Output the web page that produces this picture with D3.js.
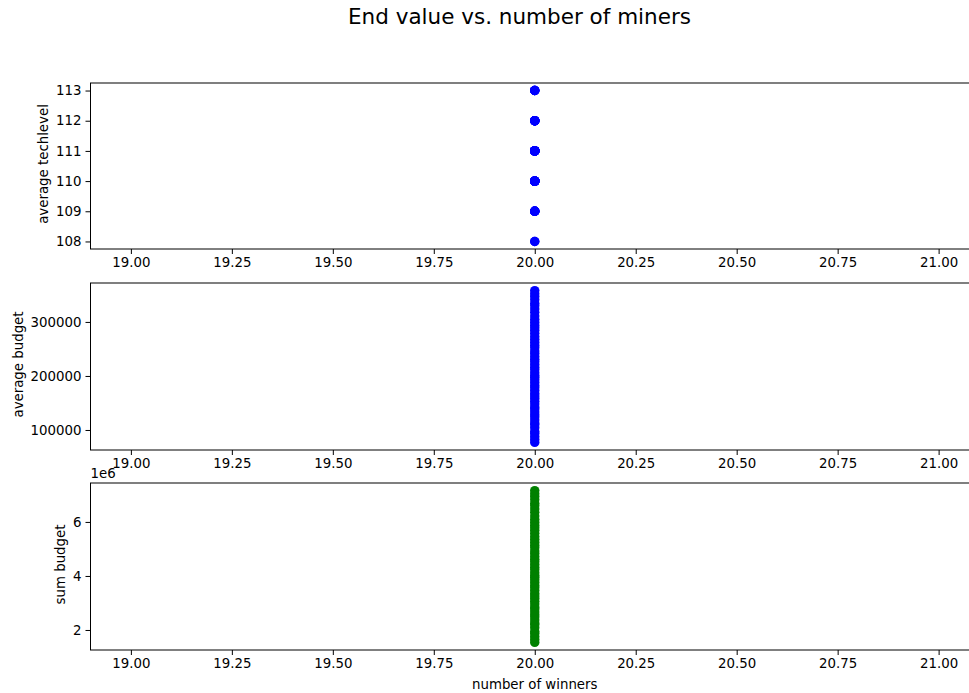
<!DOCTYPE html>
<html>
<head>
<meta charset="utf-8">
<script src="https://cdn.jsdelivr.net/npm/d3@7"></script>
<style>
body { margin: 0; background: #fff; }
svg text { font-family: "DejaVu Sans", sans-serif; fill: #000; }
</style>
</head>
<body>
<svg id="chart" width="969" height="693"></svg>
<script>
// one entry per run
const miners = [20, 20, 20, 20, 20, 20, 20, 20, 20, 20, 20, 20, 20, 20, 20, 20, 20, 20, 20, 20,
    20, 20, 20, 20, 20, 20, 20, 20, 20, 20, 20, 20, 20, 20, 20, 20, 20, 20, 20, 20,
    20, 20, 20, 20, 20, 20, 20, 20, 20, 20, 20, 20, 20, 20, 20];

const avgTechlevel = [110, 111, 109, 112, 110, 111, 113, 108, 110, 112, 111, 109, 110, 111, 112, 110, 109, 111, 113, 110,
    112, 111, 110, 109, 111, 112, 110, 111, 113, 108, 110, 111, 112, 109, 110, 111, 112, 110, 111, 109,
    113, 110, 111, 112, 110, 109, 111, 112, 110, 111, 113, 110, 112, 111, 110];

const avgBudget = [77000, 82500, 88000, 93500, 97000, 104000, 109500, 113000, 118500, 124000, 128000, 133500, 139000, 142500,
    148000, 153000, 158500, 163000, 167500, 173000, 178000, 182500, 188000, 193000, 197500, 201000, 206000, 211500,
    216000, 221000, 226500, 231000, 236000, 241500, 246000, 252000, 257000, 262500, 268000, 273000, 279000, 284500,
    289000, 294000, 299500, 305000, 311000, 318000, 324000, 330000, 334500, 341000, 347000, 352000, 358000];

const sumBudget = [1540000, 1650000, 1760000, 1870000, 1940000, 2080000, 2190000, 2260000, 2370000, 2480000, 2560000,
    2670000, 2780000, 2850000, 2960000, 3060000, 3170000, 3260000, 3350000, 3460000, 3560000, 3650000, 3760000,
    3860000, 3950000, 4020000, 4120000, 4230000, 4320000, 4420000, 4530000, 4620000, 4720000, 4830000, 4920000,
    5040000, 5140000, 5250000, 5360000, 5460000, 5580000, 5690000, 5780000, 5880000, 5990000, 6100000, 6220000,
    6360000, 6480000, 6600000, 6690000, 6820000, 6940000, 7040000, 7160000];

const xTicks = [19, 19.25, 19.5, 19.75, 20, 20.25, 20.5, 20.75, 21];
const techTicks = [108, 109, 110, 111, 112, 113];
const avgBudgetTicks = [100000, 200000, 300000];
const sumBudgetTicks = [2000000, 4000000, 6000000];

const svg = d3.select('#chart');
const left = 90.5, right = 979;
const fontSize = '13.33px';

// matplotlib-ish limits: 5% margin, singular data widened by 1
function limits(values) {
    let lo = d3.min(values), hi = d3.max(values);
    if (lo === hi) { lo -= 1; hi += 1; }
    const pad = (hi - lo) * 0.05;
    return [lo - pad, hi + pad];
}

const xscale = d3.scaleLinear()
    .domain(limits(miners))
    .range([left, right]);

const panels = [
    { values: avgTechlevel, color: '#0000ff', ylabel: 'average techlevel', labelX: 48, top: 83, bottom: 249,
      ticks: techTicks, fmt: d => d },
    { values: avgBudget, color: '#0000ff', ylabel: 'average budget', labelX: 23, top: 283, bottom: 450,
      ticks: avgBudgetTicks, fmt: d => d },
    { values: sumBudget, color: '#008000', ylabel: 'sum budget', labelX: 65, top: 483, bottom: 650,
      ticks: sumBudgetTicks, fmt: d => d / 1e6, offset: '1e6' }
];

panels.forEach(p => {
    const yscale = d3.scaleLinear()
        .domain(limits(p.values))
        .range([p.bottom, p.top]);

    const g = svg.append('g');

    g.selectAll('circle')
        .data(p.values)
        .enter()
        .append('circle')
        .attr('cx', (d, i) => xscale(miners[i]))
        .attr('cy', d => yscale(d))
        .attr('r', 4.7)
        .attr('fill', p.color);

    const xaxis = d3.axisBottom(xscale)
        .tickValues(xTicks)
        .tickFormat(d3.format('.2f'))
        .tickSize(5)
        .tickPadding(4)
        .tickSizeOuter(0);

    const yaxis = d3.axisLeft(yscale)
        .tickValues(p.ticks)
        .tickFormat(p.fmt)
        .tickSize(5)
        .tickPadding(4)
        .tickSizeOuter(0);

    const xg = g.append('g')
        .attr('transform', `translate(0, ${p.bottom})`)
        .call(xaxis);
    const yg = g.append('g')
        .attr('transform', `translate(${left}, 0)`)
        .call(yaxis);

    [xg, yg].forEach(a => {
        a.select('.domain').remove();
        a.selectAll('text').style('font-size', fontSize).attr('fill', '#000');
        a.selectAll('line').attr('stroke', '#000').attr('stroke-width', 1);
    });

    // spines
    g.append('rect')
        .attr('x', left)
        .attr('y', p.top)
        .attr('width', right - left)
        .attr('height', p.bottom - p.top)
        .attr('fill', 'none')
        .attr('stroke', '#000')
        .attr('stroke-width', 1);

    g.append('text')
        .style('font-size', fontSize)
        .attr('text-anchor', 'middle')
        .attr('transform', `translate(${p.labelX}, ${(p.top + p.bottom) / 2 - 2}) rotate(-90)`)
        .text(p.ylabel);

    if (p.offset) {
        g.append('text')
            .style('font-size', fontSize)
            .attr('x', left)
            .attr('y', p.top - 5)
            .text(p.offset);
    }
});

svg.append('text')
    .style('font-size', fontSize)
    .attr('text-anchor', 'middle')
    .attr('x', (left + right) / 2)
    .attr('y', 689)
    .text('number of winners');

svg.append('text')
    .style('font-size', '21.5px')
    .attr('text-anchor', 'middle')
    .attr('x', 519.5)
    .attr('y', 24)
    .text('End value vs. number of miners');
</script>
</body>
</html>
